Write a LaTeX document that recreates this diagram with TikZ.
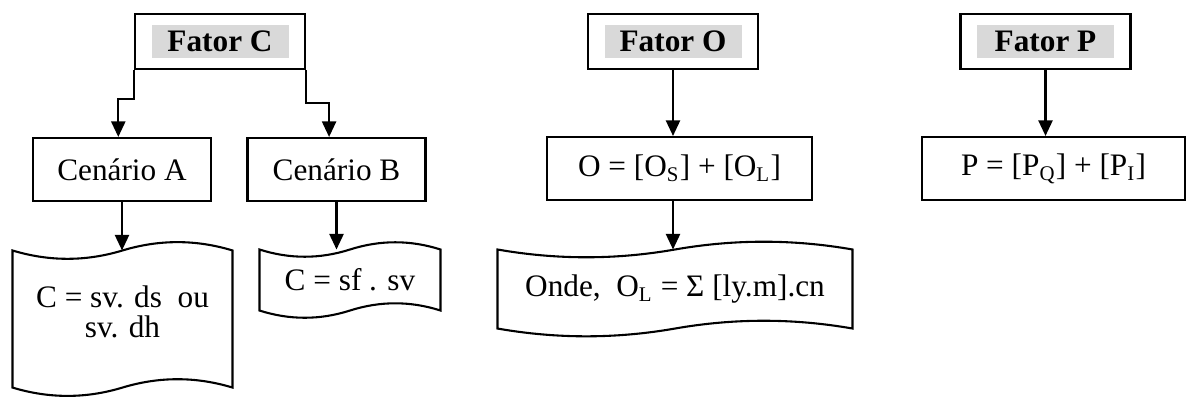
\documentclass[tikz,border=0pt]{standalone}
\usepackage{fontspec}
\setmainfont{Liberation Serif}
\usetikzlibrary{arrows.meta, positioning, calc}

% wavy border (punched tape) round a named node
\newcommand{\tapeborder}[2]{%
  \draw[line width=0.8pt] let \p1=(#1.north west), \p2=(#1.south east), \n1={(\x2-\x1)/6} in
    (\x1,\y1) .. controls ({\x1+\n1},{\y1-#2}) and ({\x1+2*\n1},{\y1-#2}) .. ({\x1+3*\n1},\y1)
    .. controls ({\x1+4*\n1},{\y1+#2}) and ({\x1+5*\n1},{\y1+#2}) .. (\x2,\y1)
    -- (\x2,\y2)
    .. controls ({\x1+5*\n1},{\y2+#2}) and ({\x1+4*\n1},{\y2+#2}) .. ({\x1+3*\n1},\y2)
    .. controls ({\x1+2*\n1},{\y2-#2}) and ({\x1+\n1},{\y2-#2}) .. (\x1,\y2)
    -- cycle;
}

\begin{document}
\begin{tikzpicture}[
x=0.01349cm, y=0.01349cm,
font=\fontsize{12}{14}\selectfont,
% Define block styles
fator/.style = {rectangle, minimum width=2.293cm, minimum height=0.742cm, draw=black, line width=0.8pt},
highlight/.style = {rectangle, fill=black!15, minimum width=1.848cm, minimum height=0.445cm, inner sep=0pt, font=\fontsize{12}{14}\selectfont\bfseries},
process/.style = {rectangle, minimum height=0.85cm, text centered, draw=black, line width=0.8pt},
tape/.style = {rectangle, draw=none, align=center},
arrow/.style = {line width=0.8pt, -{Triangle[width=0.19cm,length=0.21cm]}}
]
\useasboundingbox (0,0) rectangle (1186,-398);

% Factor boxes
\node (fc) [fator] at (220,-41.5) {};
\node (fctext) [highlight] at (fc) {Fator C};
\node (fo) [fator] at (673,-41.5) {};
\node (fotext) [highlight] at (fo) {Fator O};
\node (fp) [fator] at (1045.5,-41.5) {};
\node (fptext) [highlight] at (fp) {Fator P};

% Second row
\node (ca) [process, minimum width=2.401cm] at (122,-169.5) {Cenário A};
\node (cb) [process, minimum width=2.401cm] at (336.5,-169.5) {Cenário B};
\node (ob) [process, minimum width=3.575cm] at (679.5,-168.5) {O = [O\textsubscript{S}] + [O\textsubscript{L}]};
\node (pb) [process, minimum width=3.548cm] at (1053.5,-168.5) {P = [P\textsubscript{Q}] + [P\textsubscript{I}]};

% Formulas
\node (ta) [tape, minimum width=2.954cm, minimum height=1.835cm, text depth=6pt, font=\fontsize{12}{11.5}\selectfont] at (122.5,-319) {C = sv. ds~ ou\\sv. dh};
\node (tb) [tape, minimum width=2.428cm, minimum height=0.809cm] at (350,-280) {C = sf . sv};
\node (to) [tape, minimum width=4.775cm, minimum height=1.052cm] at (675,-289) {Onde,~ O\textsubscript{L} = Σ [ly.m].cn};
\tapeborder{ta}{0.15cm}
\tapeborder{tb}{0.13cm}
\tapeborder{to}{0.14cm}

% Arrows
\draw [arrow] (fc.south west) -- ++(0,-29) -| ([xshift=-0.05cm]ca.north);
\draw [arrow] (fc.south east) -- ++(0,-33) -| ([xshift=-0.1cm]cb.north);
\draw [arrow] (fo.south) -- (fo.south |- ob.north);
\draw [arrow] (fp.south) -- (fp.south |- pb.north);
\draw [arrow] (ca.south) -- (ca.south |- ta.north);
\draw [arrow] (cb.south) -- (cb.south |- tb.north);
\draw [arrow] (fo.south |- ob.south) -- (fo.south |- to.north);
\end{tikzpicture}
\end{document}
